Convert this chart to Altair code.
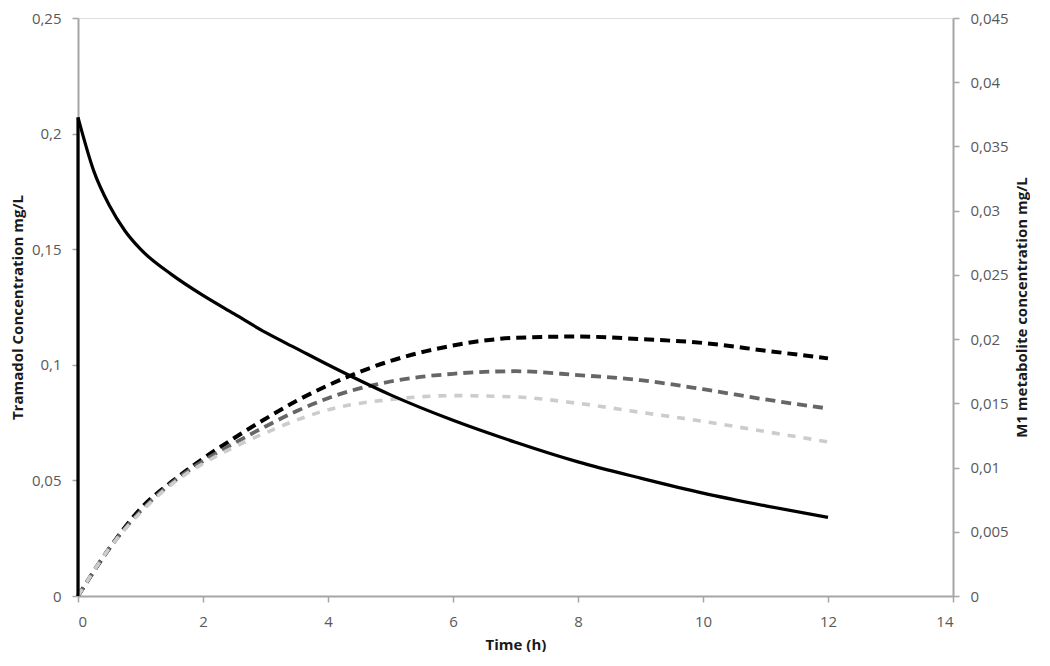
import altair as alt
import pandas as pd

# Tramadol (left axis)
tram_time = [0, 0, 0.25, 0.5, 0.75, 1, 1.5, 2, 2.5, 3, 3.5, 4, 5, 6, 7, 8, 9, 10, 11, 12]
tram_conc = [0, 0.207, 0.184, 0.169, 0.158, 0.150, 0.139, 0.130, 0.122, 0.114, 0.107, 0.100,
             0.087, 0.076, 0.0665, 0.058, 0.051, 0.0445, 0.039, 0.034]

# M1 metabolite (right axis)
m1_time = [0, 0.5, 1, 1.5, 2, 2.5, 3, 3.5, 4, 5, 6, 7, 8, 9, 10, 11, 12]
m1_a = [0, 0.0037, 0.0068, 0.0089, 0.0107, 0.0123, 0.0138, 0.0152, 0.0164, 0.0183, 0.0195,
        0.0201, 0.0202, 0.0200, 0.0197, 0.0191, 0.0185]
m1_b = [0, 0.0037, 0.0066, 0.0088, 0.0105, 0.0119, 0.0132, 0.0144, 0.0154, 0.0167, 0.0173,
        0.0175, 0.0172, 0.0168, 0.0161, 0.0153, 0.0146]
m1_c = [0, 0.0037, 0.0065, 0.0087, 0.0103, 0.0116, 0.0127, 0.0137, 0.0145, 0.0153, 0.0156,
        0.0155, 0.0150, 0.0143, 0.0136, 0.0128, 0.0120]
series_names = ["M1 A", "M1 B", "M1 C"]

x_ticks = [0, 2, 4, 6, 8, 10, 12, 14]
left_ticks = [0, 0.05, 0.1, 0.15, 0.2, 0.25]
right_ticks = [0, 0.005, 0.01, 0.015, 0.02, 0.025, 0.03, 0.035, 0.04, 0.045]

tram_df = pd.DataFrame({"t": tram_time, "c": tram_conc, "i": range(len(tram_time))})
rows = []
for name, vals in zip(series_names, [m1_a, m1_b, m1_c]):
    for k, (t, v) in enumerate(zip(m1_time, vals)):
        rows.append({"t": t, "c": v, "s": name, "i": k})
m1_df = pd.DataFrame(rows)

FONT = "Open Sans"
AX = "#a6a6a6"
LAB = "#595959"
TIT = "#1a1a1a"

x_axis = alt.Axis(title="Time (h)", values=x_ticks, grid=False, format="d",
                  domainColor=AX, domainWidth=2, tickColor=AX, tickWidth=1.5,
                  tickSize=6, labelPadding=12, labelColor=LAB, labelFontSize=15,
                  titleFontSize=15, titleFontWeight="bold", titleColor=TIT,
                  titlePadding=8, labelFont=FONT, titleFont=FONT)
x_scale = alt.Scale(domain=[0, 14], nice=False)

left_axis = alt.Axis(title="Tramadol Concentration mg/L", values=left_ticks, grid=False,
                     labelExpr="replace(format(datum.value, '.2~f'), '.', ',')",
                     domainColor=AX, domainWidth=2, tickColor=AX, tickWidth=1.5,
                     tickSize=6, labelPadding=11, labelColor=LAB, labelFontSize=15,
                     titleFontSize=15, titleFontWeight="bold", titleColor=TIT,
                     titlePadding=6, labelFont=FONT, titleFont=FONT)
left_scale = alt.Scale(domain=[0, 0.25], nice=False)

tram_base = alt.Chart(tram_df).encode(
    x=alt.X("t:Q", scale=x_scale, axis=x_axis),
    y=alt.Y("c:Q", scale=left_scale, axis=left_axis),
    order="i:Q",
)
tram_jump = tram_base.transform_filter("datum.i <= 1").mark_line(
    color="black", strokeWidth=3.2)
tram_decay = tram_base.transform_filter("datum.i >= 1").mark_line(
    color="black", strokeWidth=3.2, interpolate="monotone")
tram = alt.layer(tram_jump, tram_decay)

m1 = alt.Chart(m1_df).mark_line(interpolate="monotone").encode(
    x=alt.X("t:Q", scale=x_scale, axis=x_axis),
    y=alt.Y("c:Q", scale=alt.Scale(domain=[0, 0.045], nice=False),
            axis=alt.Axis(title="M1 metabolite concentration mg/L", orient="right",
                          values=right_ticks, grid=False,
                          labelExpr="replace(format(datum.value, '.3~f'), '.', ',')",
                          domainColor=AX, domainWidth=2, tickColor=AX, tickWidth=1.5,
                          tickSize=6, labelPadding=11, labelColor=LAB, labelFontSize=15,
                          titleFontSize=15, titleFontWeight="bold", titleColor=TIT,
                          titlePadding=6, titleAngle=270, titleBaseline="top",
                          labelFont=FONT, titleFont=FONT)),
    color=alt.Color("s:N", scale=alt.Scale(domain=series_names,
                                           range=["#000000", "#666666", "#cccccc"]), legend=None),
    strokeDash=alt.StrokeDash("s:N", scale=alt.Scale(domain=series_names,
                                                     range=[[10, 6], [10, 6], [8, 8]]), legend=None),
    strokeWidth=alt.StrokeWidth("s:N", scale=alt.Scale(domain=series_names,
                                                       range=[4, 3.6, 3]), legend=None),
    detail="s:N",
    order="i:Q",
)

chart = alt.layer(m1, tram).resolve_scale(y="independent").properties(
    width=875, height=578, padding={"left": 2, "top": 3, "right": 0, "bottom": 0}
).configure_view(stroke=None).configure(font=FONT)

chart.save("out.html", embed_options={"renderer": "svg", "actions": False})
